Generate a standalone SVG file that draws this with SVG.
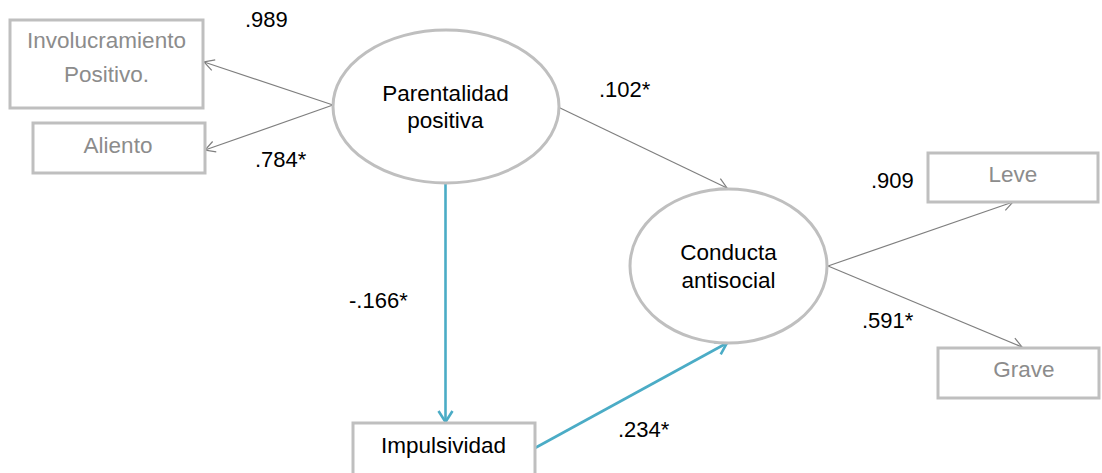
<svg xmlns="http://www.w3.org/2000/svg" width="1102" height="473" viewBox="0 0 1102 473">
  <style>
    .box { fill: #ffffff; stroke: #bfbfbf; stroke-width: 3; }
    .latent { fill: #ffffff; stroke: #bfbfbf; stroke-width: 3; }
    .obs { font-family: "Liberation Sans", Arial, sans-serif; font-size: 22.5px; fill: #8c8c8c; text-anchor: middle; }
    .lbl { font-family: "Liberation Sans", Arial, sans-serif; font-size: 22.5px; fill: #000000; text-anchor: middle; }
    .coef { font-family: "Liberation Sans", Arial, sans-serif; font-size: 22px; fill: #000000; }
    .gray { stroke: #7f7f7f; stroke-width: 1.2; fill: none; marker-end: url(#arrowGray); }
    .blue { stroke: #4bacc6; stroke-width: 2.6; fill: none; marker-end: url(#arrowBlue); }
  </style>
  <defs>
    <marker id="arrowGray" markerUnits="userSpaceOnUse" viewBox="-12 -8 14 16" refX="0" refY="0" markerWidth="14" markerHeight="16" orient="auto">
      <path d="M-10,-5.5 L0,0 L-10,5.5" fill="none" stroke="#7f7f7f" stroke-width="1.2"/>
    </marker>
    <marker id="arrowBlue" markerUnits="userSpaceOnUse" viewBox="-14 -10 16 20" refX="0" refY="0" markerWidth="16" markerHeight="20" orient="auto">
      <path d="M-11,-7 L0,0 L-11,7" fill="none" stroke="#4bacc6" stroke-width="2.6"/>
    </marker>
  </defs>
  <rect width="1102" height="473" fill="#ffffff"/>

  <!-- connectors -->
  <g id="connectors">
    <line class="gray" x1="333" y1="105" x2="204" y2="62"/>
    <line class="gray" x1="333" y1="105" x2="205" y2="150"/>
    <line class="gray" x1="558" y1="107" x2="727" y2="188"/>
    <line class="gray" x1="828" y1="266" x2="1013" y2="202"/>
    <line class="gray" x1="828" y1="266" x2="1022" y2="347"/>
    <line class="blue" x1="445.5" y1="183" x2="445.5" y2="422"/>
    <line class="blue" x1="535" y1="448" x2="727" y2="343"/>
  </g>

  <!-- coefficients -->
  <g id="coefficients">
    <text class="coef" x="245" y="27">.989</text>
    <text class="coef" x="255" y="167">.784*</text>
    <text class="coef" x="599" y="97">.102*</text>
    <text class="coef" x="349" y="308">-.166*</text>
    <text class="coef" x="618" y="437">.234*</text>
    <text class="coef" x="871" y="188">.909</text>
    <text class="coef" x="862" y="328">.591*</text>
  </g>

  <g id="involucramiento">
    <rect class="box" x="10" y="20" width="193" height="88"/>
    <text class="obs" x="106.5" y="48">Involucramiento</text>
    <text class="obs" x="106.5" y="82">Positivo.</text>
  </g>

  <g id="aliento">
    <rect class="box" x="33" y="123" width="172" height="50"/>
    <text class="obs" x="118" y="153">Aliento</text>
  </g>

  <g id="parentalidad">
    <ellipse class="latent" cx="446" cy="106.5" rx="113" ry="76.5"/>
    <text class="lbl" x="445.5" y="101">Parentalidad</text>
    <text class="lbl" x="445.5" y="128">positiva</text>
  </g>

  <g id="conducta">
    <ellipse class="latent" cx="728.5" cy="266" rx="98.5" ry="77"/>
    <text class="lbl" x="728.5" y="260">Conducta</text>
    <text class="lbl" x="728.5" y="288">antisocial</text>
  </g>

  <g id="leve">
    <rect class="box" x="928" y="153" width="170" height="49"/>
    <text class="obs" x="1013" y="182">Leve</text>
  </g>

  <g id="grave">
    <rect class="box" x="938" y="348" width="161" height="50"/>
    <text class="obs" x="1024" y="377">Grave</text>
  </g>

  <g id="impulsividad">
    <rect class="box" x="353" y="423" width="182" height="54"/>
    <text class="lbl" x="443.5" y="453">Impulsividad</text>
  </g>
</svg>
